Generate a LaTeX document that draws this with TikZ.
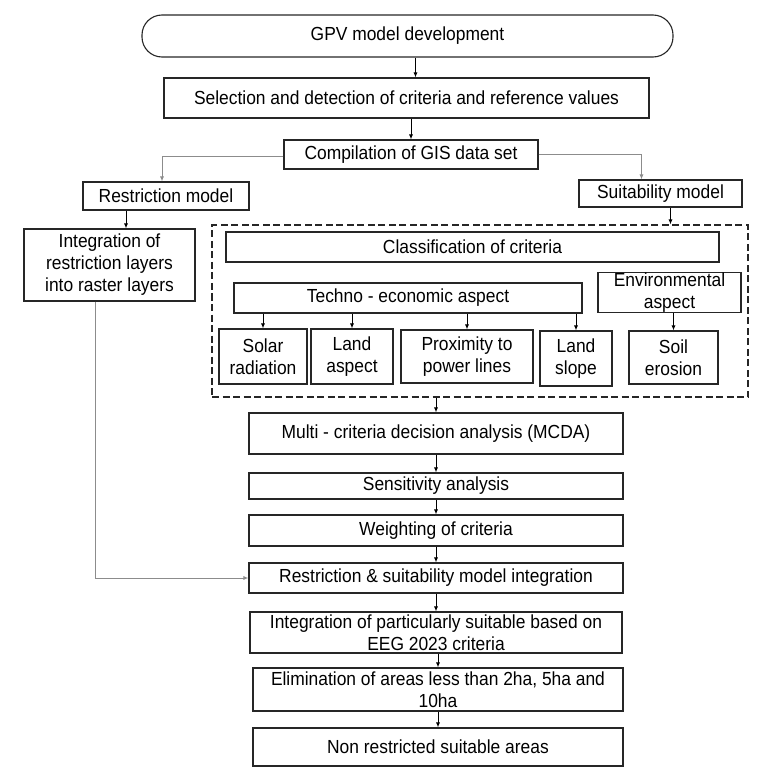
\documentclass[tikz,border=0pt]{standalone}
\usepackage{fontspec}
\setmainfont[FakeStretch=0.92]{Liberation Sans}
\usetikzlibrary{arrows.meta,positioning}
\definecolor{FlowInk}{HTML}{262626}
\definecolor{FlowGray}{HTML}{8C8C8C}

\begin{document}
\begin{tikzpicture}[x=1bp,y=-1bp,
  box/.style={draw=FlowInk,line width=1.1bp,inner sep=0pt,align=center,font=\fontsize{19}{22}\selectfont},
  sz/.style 2 args={minimum width=#1bp,minimum height=#2bp},
  arr/.style={-{Latex[length=5bp,width=4bp]},line width=.9bp},
  feed/.style={FlowGray,line width=.9bp}]
\useasboundingbox (0,0) rectangle (759,776);
% top of the flow
\node[box,sz={531}{42},rounded corners=20bp] (gpv) at (407.5,36) {GPV model development};
\node[box,sz={485}{40}] (sel) at (406.5,98) {Selection and detection of criteria and reference values};
\node[box,sz={254}{29}] (comp) at (411,154.5) {Compilation of GIS data set};
\node[box,sz={166}{28}] (restr) at (166,196) {Restriction model};
\node[box,sz={163}{27}] (suit) at (660.5,193.5) {Suitability model};
\node[box,sz={171}{72}] (intr) at (109.5,265) {Integration of\\restriction layers\\into raster layers};
% suitability criteria
\node[draw=FlowInk,line width=1.1bp,dash pattern=on 7bp off 3.5bp,sz={536}{172}] (crit) at (480,311) {};
\node[box,sz={493}{30}] (class) at (472.5,247) {Classification of criteria};
\node[box,sz={348}{30}] (techno) at (408,298) {Techno - economic aspect};
\node[box,sz={143}{39}] (env) at (669.5,292.5) {Environmental\\aspect};
\node[box,sz={88}{55}] (solar) at (263,356.5) {Solar\\radiation};
\node[box,sz={82}{55}] (landasp) at (352,356.5) {Land\\aspect};
\node[box,sz={132}{53}] (prox) at (467,356.5) {Proximity to\\power lines};
\node[box,sz={72}{55}] (slope) at (576,358.5) {Land\\slope};
\node[box,sz={89}{53}] (soil) at (673.5,357.5) {Soil\\erosion};
% analysis chain
\node[box,sz={374}{41}] (mcda) at (436,433.5) {Multi - criteria decision analysis (MCDA)};
\node[box,sz={374}{26}] (sens) at (436,486) {Sensitivity analysis};
\node[box,sz={374}{31}] (weight) at (436,530.5) {Weighting of criteria};
\node[box,sz={374}{30}] (rsint) at (436,578) {Restriction \& suitability model integration};
\node[box,sz={372}{41}] (part) at (436,632.5) {Integration of particularly suitable based on\\EEG 2023 criteria};
\node[box,sz={370}{43}] (elim) at (438,689.5) {Elimination of areas less than 2ha, 5ha and\\10ha};
\node[box,sz={370}{38}] (nonr) at (438,747) {Non restricted suitable areas};
% connectors
\draw[arr] ([xshift=8bp]gpv.south) -- ([xshift=8bp]gpv.south |- sel.north);
\draw[arr] (sel.south -| comp.north) -- (comp.north);
\draw[feed,arr] ([yshift=-2bp]comp.west) -| ([xshift=-4bp]restr.north);
\draw[feed,arr] (comp.east) -| ([xshift=-19bp]suit.north);
\draw[arr] ([xshift=-40bp]restr.south) -- ([xshift=-40bp]restr.south |- intr.north);
\draw[arr] ([xshift=10bp]suit.south) -- ([xshift=10bp]suit.south |- crit.north);
\foreach \n in {solar,landasp,prox,slope}{\draw[arr] (techno.south -| \n.north) -- (\n.north);}
\draw[arr] (env.south -| soil.north) -- (soil.north);
\draw[arr] (crit.south -| mcda.north) -- (mcda.north);
\foreach \a/\b in {mcda/sens,sens/weight,weight/rsint,rsint/part,part/elim,elim/nonr}{\draw[arr] (\a.south -| \b.north) -- (\b.north);}
\draw[feed,arr] ([xshift=-14.5bp]intr.south) |- (rsint.west);
\end{tikzpicture}
\end{document}
